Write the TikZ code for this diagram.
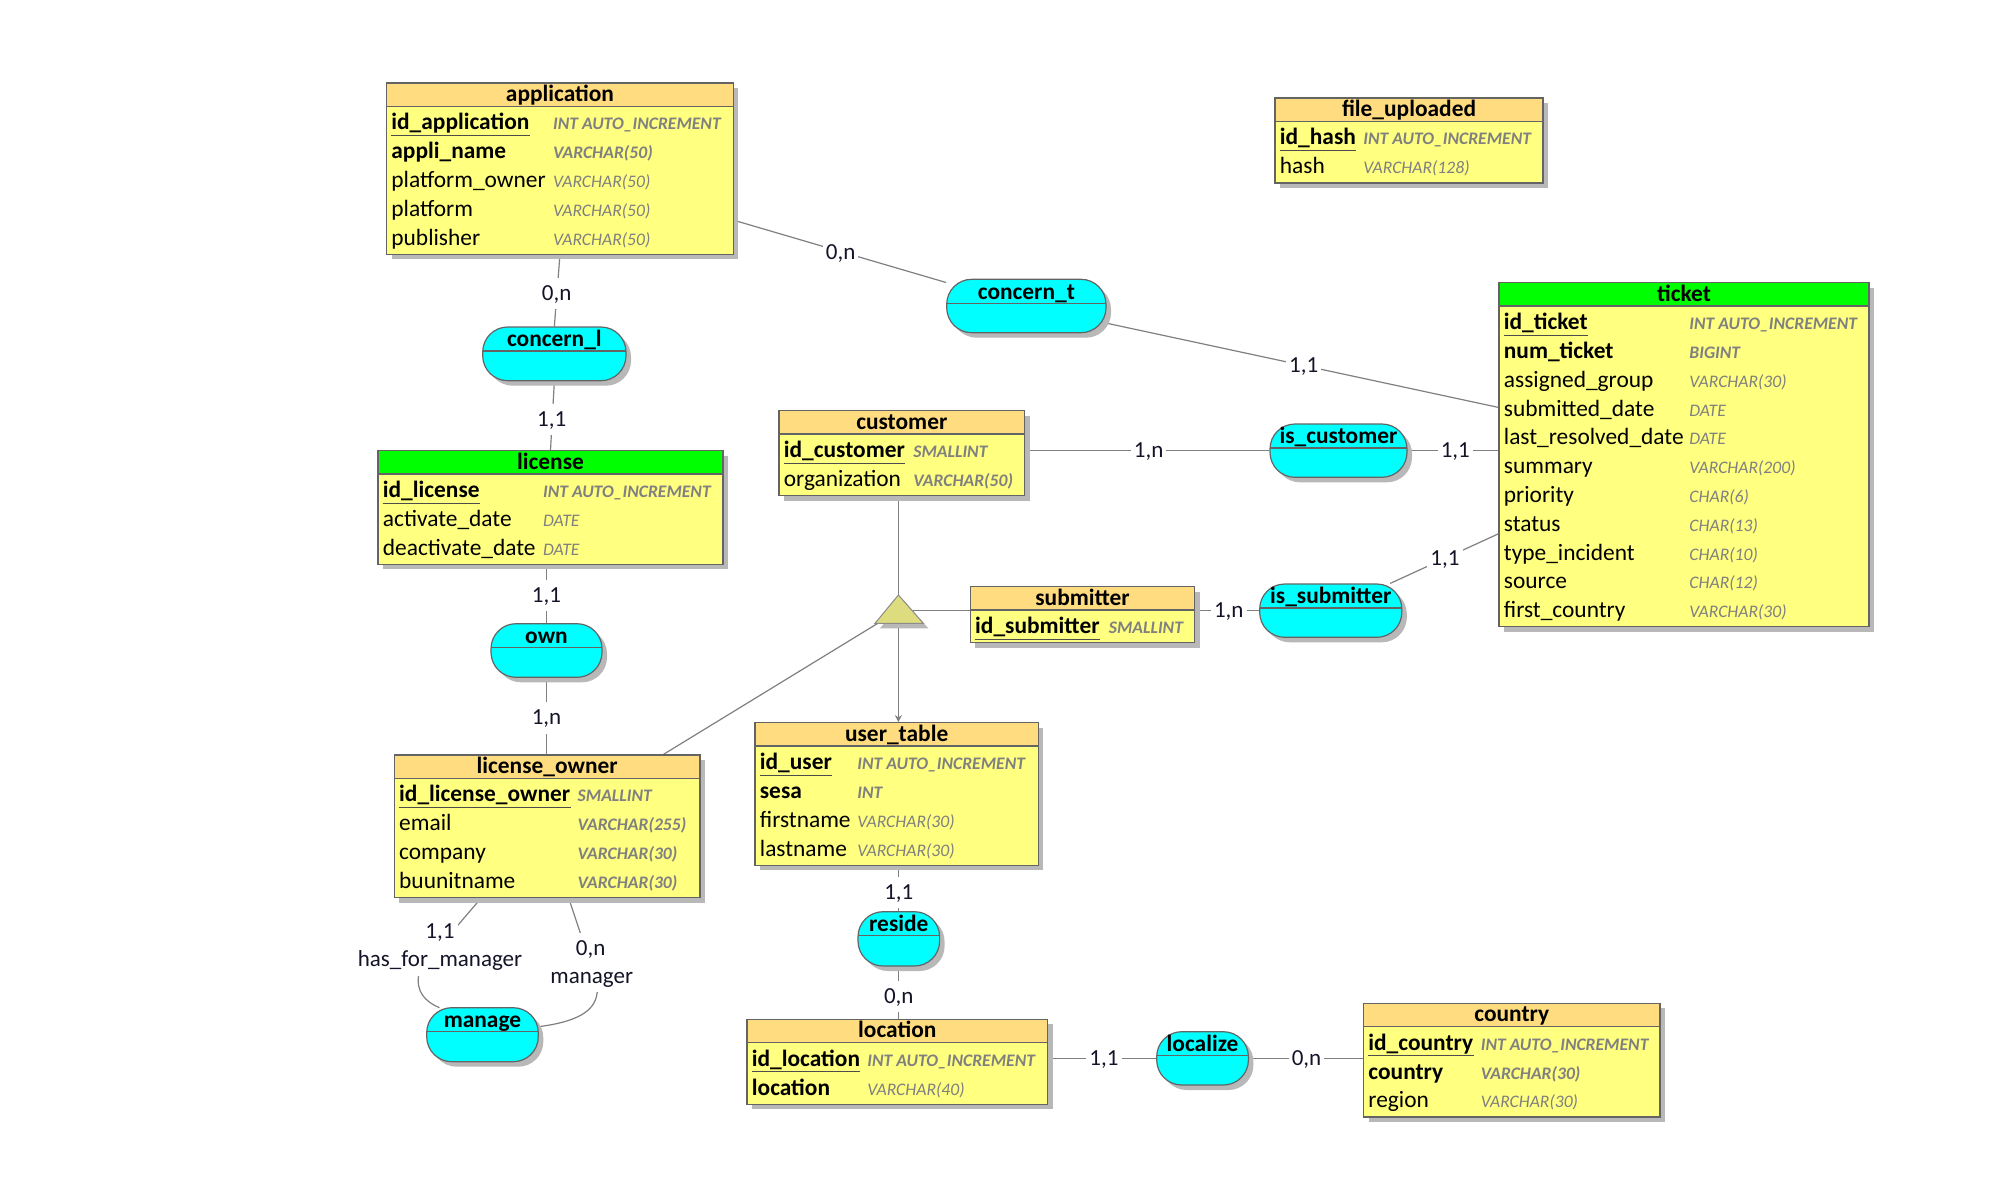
\documentclass[tikz,border=0pt]{standalone}
\usepackage{fontspec}
\setmainfont{Carlito}
\usetikzlibrary{fit,calc,shadows,arrows.meta}
\definecolor{hdrorange}{RGB}{255,220,128}
\definecolor{bodyyellow}{RGB}{255,255,128}
\definecolor{hdrgreen}{RGB}{0,255,0}
\definecolor{relcyan}{RGB}{0,255,255}
\definecolor{isaolive}{RGB}{221,221,128}
\definecolor{typegray}{RGB}{128,128,128}
\definecolor{linegray}{RGB}{128,128,128}
\definecolor{boxborder}{RGB}{100,100,100}
\definecolor{lbltext}{RGB}{20,20,40}
\newcommand\rowfont{\fontsize{11.7}{14}\selectfont}
\newcommand\lblfont{\fontsize{11.5}{14}\selectfont}
\newcommand\typefont{\fontsize{8.8}{10}\selectfont\itshape}
\pgfdeclarelayer{bg}\pgfdeclarelayer{conn}\pgfsetlayers{bg,conn,main}
\tikzset{
 shadowgray/.style={drop shadow={shadow xshift=2.5pt,shadow yshift=-2.5pt,fill=black!28,opacity=1}},
 tbl/.style={draw=boxborder,line width=0.6pt,fill=bodyyellow,inner sep=0pt,shadowgray},
 tblline/.style={draw=boxborder,line width=0.6pt},
 ttitle/.style={font=\rowfont\bfseries,text height=9pt,text depth=2.2pt,inner sep=0pt},
 rowname/.style={inner sep=0pt,text height=9pt,text depth=2.2pt,anchor=west,font=\rowfont},
 rowtype/.style={inner sep=0pt,text height=9pt,text depth=2.2pt,anchor=west,text=typegray},
 ul/.style={draw=black!70,line width=0.5pt},
 rowKname/.style={rowname,font=\rowfont\bfseries,append after command={([yshift=-0.4pt]\tikzlastnode.south west) edge[ul] ([yshift=-0.4pt]\tikzlastnode.south east)}},
 rowBname/.style={rowname,font=\rowfont\bfseries},
 rowRname/.style={rowname,font=\rowfont\bfseries},
 rowPname/.style={rowname},
 rowQname/.style={rowname},
 rowKtype/.style={rowtype,font=\typefont\bfseries},
 rowBtype/.style={rowtype,font=\typefont\bfseries},
 rowRtype/.style={rowtype,font=\typefont},
 rowPtype/.style={rowtype,font=\typefont},
 rowQtype/.style={rowtype,font=\typefont\bfseries},
 rel/.style={draw=boxborder,line width=0.6pt,fill=relcyan,rounded corners=12.5pt,inner sep=0pt,shadowgray},
 reltext/.style={font=\rowfont\bfseries,text height=9pt,text depth=2.2pt,inner sep=0pt},
 conn/.style={draw=linegray,line width=0.6pt},
 card/.style={fill=white,inner xsep=1.5pt,inner ysep=2.2pt,font=\lblfont,text=lbltext,text height=9pt,text depth=2.2pt},
 isastyle/.style={fill=isaolive,draw=black!45,line width=0.5pt,shadowgray},
}
% #1 id, #2 x1, #3 y1, #4 x2, #5 rows, #6 type x, #7 header colour, #8 title, #9 rows
\newcommand\ertable[9]{%
 \pgfmathsetmacro\yhb{#3+23.3}%
 \pgfmathsetmacro\ybot{#3+27.3+#5*28.8}%
 \node[tbl,fit={(#2,#3) (#4,\ybot)}] (#1) {};
 \fill[#7] (#2,#3) rectangle (#4,\yhb);
 \draw[tblline] (#2,\yhb) -- (#4,\yhb);
 \draw[tblline] (#2,#3) rectangle (#4,\ybot);
 \node[ttitle] (#1-title) at ({(#2+#4)/2},{#3+11.65}) {#8};
 \foreach \kk/\nm/\ty [count=\ii] in {#9} {%
   \pgfmathsetmacro\yy{\yhb+16.8+(\ii-1)*28.8}%
   \node[row\kk name] (#1-\ii) at ({#2+4.5},\yy) {\nm};
   \node[row\kk type] (#1-\ii-type) at (#6,\yy) {\ty};
 }%
}
% #1 id, #2 x1, #3 y1, #4 x2, #5 y2, #6 text
\newcommand\relbox[6]{%
 \node[rel,fit={(#2,#3) (#4,#5)}] (#1) {};
 \draw[tblline] (#2,{#3+24}) -- (#4,{#3+24});
 \node[reltext] (#1-title) at ({(#2+#4)/2},{#3+13}) {#6};
}
\begin{document}
\begin{tikzpicture}[x=0.5pt,y=-0.5pt]
\begin{pgfonlayer}{bg}
\fill[white] (0,0) rectangle (2000,1200);
\end{pgfonlayer}
\useasboundingbox (0,0) rectangle (2000,1200);

% ---------- entities ----------
\ertable{application}{386.5}{82.9}{733.4}{5}{552.7}{hdrorange}{application}{K/id\_application/INT AUTO\_INCREMENT,B/appli\_name/VARCHAR(50),P/platform\_owner/VARCHAR(50),P/platform/VARCHAR(50),P/publisher/VARCHAR(50)}
\ertable{fileup}{1275}{98}{1543}{2}{1363}{hdrorange}{file\_uploaded}{K/id\_hash/INT AUTO\_INCREMENT,P/hash/VARCHAR(128)}
\ertable{ticket}{1499}{282.7}{1869}{11}{1689}{hdrgreen}{ticket}{K/id\_ticket/INT AUTO\_INCREMENT,B/num\_ticket/BIGINT,P/assigned\_group/VARCHAR(30),P/submitted\_date/DATE,P/last\_resolved\_date/DATE,P/summary/VARCHAR(200),P/priority/CHAR(6),P/status/CHAR(13),P/type\_incident/CHAR(10),P/source/CHAR(12),P/first\_country/VARCHAR(30)}
\ertable{license}{378}{450.7}{723}{3}{542.7}{hdrgreen}{license}{K/id\_license/INT AUTO\_INCREMENT,P/activate\_date/DATE,P/deactivate\_date/DATE}
\ertable{customer}{779}{410.7}{1024.6}{2}{913}{hdrorange}{customer}{K/id\_customer/SMALLINT,Q/organization/VARCHAR(50)}
\ertable{submitter}{970.3}{586.7}{1194.8}{1}{1108.5}{hdrorange}{submitter}{K/id\_submitter/SMALLINT}
\ertable{lowner}{394.3}{755}{700}{4}{577.3}{hdrorange}{license\_owner}{K/id\_license\_owner/SMALLINT,Q/email/VARCHAR(255),Q/company/VARCHAR(30),Q/buunitname/VARCHAR(30)}
\ertable{usertable}{755}{722.7}{1038.3}{4}{857}{hdrorange}{user\_table}{K/id\_user/INT AUTO\_INCREMENT,B/sesa/INT,P/firstname/VARCHAR(30),P/lastname/VARCHAR(30)}
\ertable{location}{747}{1019.3}{1047.6}{2}{867}{hdrorange}{location}{K/id\_location/INT AUTO\_INCREMENT,R/location/VARCHAR(40)}
\ertable{country}{1363.5}{1003.3}{1660}{3}{1480.4}{hdrorange}{country}{K/id\_country/INT AUTO\_INCREMENT,B/country/VARCHAR(30),P/region/VARCHAR(30)}

% ---------- associations ----------
\relbox{concernt}{946.7}{279.3}{1106}{332.7}{concern\_t}
\relbox{concernl}{482.7}{327}{626}{380.7}{concern\_l}
\relbox{own}{491}{623.7}{602}{677.3}{own}
\relbox{iscust}{1270}{424}{1407}{477.3}{is\_customer}
\relbox{issub}{1259.7}{584}{1401.8}{637.3}{is\_submitter}
\relbox{reside}{858}{911.7}{939.6}{966}{reside}
\relbox{localize}{1156.7}{1031.7}{1248.4}{1085}{localize}
\relbox{manage}{426.7}{1007.7}{538.3}{1061.7}{manage}

% ---------- inheritance triangle ----------
\coordinate (isa-top) at (898.4,595);
\coordinate (isa-bot) at (898.4,623.3);
\coordinate (isa-c) at (898.4,610.7);
\coordinate (isa-l) at (875,623.3);
\coordinate (isa-r) at (923.3,623.3);

% ---------- connectors ----------
\begin{pgfonlayer}{conn}
\draw[conn] (application.south) -- (concernl.north);
\draw[conn] (concernl.south) -- (license.north);
\draw[conn] ($(application.north east)+(0,138)$) -- (concernt);
\draw[conn] (concernt) -- ($(ticket.north west)+(0,125.3)$);
\draw[conn] (own.north |- license.south) -- (own.north);
\draw[conn] (own.south) -- (own.south |- lowner.north);
\draw[conn] (customer.east |- iscust.west) -- (iscust.west);
\draw[conn] (iscust.east) -- (iscust.east -| ticket.west);
\draw[conn] (isa-top |- customer.south) -- (isa-top);
\draw[conn] (isa-c) -- (isa-c -| submitter.west);
\draw[conn] (issub.west -| submitter.east) -- (issub.west);
\draw[conn] (issub) -- ($(ticket.north west)+(0,251.7)$);
\draw[conn] (isa-c) -- ($(lowner.north west)+(269.7,0)$);
\draw[conn,-{Stealth[length=3.5pt,width=3.5pt]}] (isa-bot) -- (isa-bot |- usertable.north);
\draw[conn] (reside.north |- usertable.south) -- (reside.north);
\draw[conn] (reside.south) -- (reside.south |- location.north);
\draw[conn] (localize.west -| location.east) -- (localize.west);
\draw[conn] (localize.east) -- (localize.east -| country.west);
\draw[conn] ($(lowner.south west)+(87.4,0)$) -- (440,946) -- (419,973) .. controls (415,992) and (426,1002) .. ($(manage.north west)+(13.3,0.6)$);
\draw[conn] ($(lowner.south west)+(175,0)$) -- (586,950) -- (597.3,988.3) .. controls (598,1012) and (575,1022) .. ($(manage.east)+(-0.6,-8)$);
\end{pgfonlayer}

\path[isastyle] (isa-l) -- (isa-top) -- (isa-r) -- cycle;

% ---------- cardinalities ----------
\node[card] (lbl1) at (840.6,252.6) {0,n};
\node[card] (lbl2) at (1303.6,366) {1,1};
\node[card] (lbl3) at (556.7,293.3) {0,n};
\node[card] (lbl4) at (551.7,419.3) {1,1};
\node[card] (lbl5) at (546.5,595.7) {1,1};
\node[card] (lbl6) at (546.5,718) {1,n};
\node[card] (lbl7) at (1148.7,450.7) {1,n};
\node[card] (lbl8) at (1455.3,450.7) {1,1};
\node[card] (lbl9) at (1228.8,611) {1,n};
\node[card] (lbl10) at (1445,558.7) {1,1};
\node[card] (lbl11) at (898.8,892.7) {1,1};
\node[card] (lbl12) at (898.8,996.7) {0,n};
\node[card] (lbl13) at (1104,1059) {1,1};
\node[card] (lbl14) at (1306.5,1059) {0,n};
\node[card] (lbl15) at (440,931.7) {1,1};
\node[card] (lbl16) at (440,960) {has\_for\_manager};
\node[card] (lbl17) at (590.7,948.3) {0,n};
\node[card] (lbl18) at (591.7,976.7) {manager};
\end{tikzpicture}
\end{document}
